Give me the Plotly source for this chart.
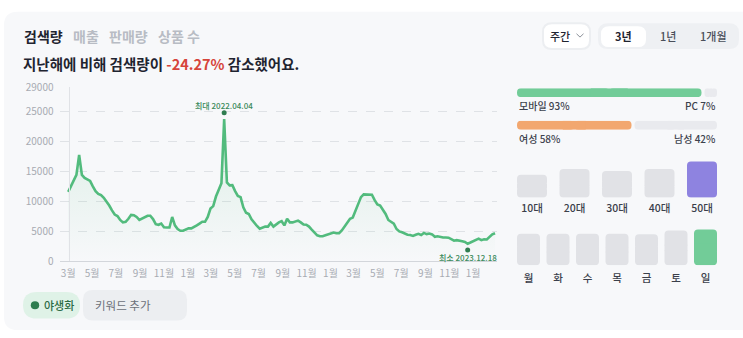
import plotly.graph_objects as go
import pandas as pd

W, H = 743, 338

# ---------------- data ----------------
search_volume = [
    11570, 12500, 13500, 14400, 17700, 14400, 13900, 13600, 13400, 12500,
    11700, 11250, 11050, 10600, 10000, 9300, 8500, 7800, 7550, 6900,
    6500, 6600, 7100, 7750, 7700, 7400, 6900, 7100, 7350, 7600,
    7600, 7050, 6200, 6100, 6300, 5700, 5650, 5650, 7400, 6000,
    5400, 5100, 5100, 5300, 5500, 5500, 5700, 6000, 6300, 6600,
    6600, 7400, 8800, 9200, 10800, 12000, 13000, 23700, 13150, 12650,
    12700, 11700, 10900, 10700, 9000, 8100, 7900, 7000, 6400, 5900,
    5450, 5650, 5800, 5800, 6400, 5800, 6200, 6500, 6700, 6000,
    7100, 6500, 6500, 6600, 6800, 6500, 6150, 6100, 5800, 5300,
    4900, 4350, 4200, 4200, 4350, 4470, 4650, 4800, 4700, 4700,
    5150, 5800, 6600, 7100, 7300, 8500, 9700, 10700, 11150, 11120,
    11100, 11100, 10200, 9500, 9300, 8600, 7900, 6900, 6600, 6300,
    5400, 5000, 4850, 4600, 4450, 4400, 4250, 4450, 4600, 4400,
    4750, 4550, 4650, 4500, 4100, 4200, 4050, 3990, 3990, 3950,
    3700, 3450, 3550, 3500, 3350, 3250, 2950, 3150, 3350, 3650,
    3800, 3550, 3700, 3650, 4100, 4500, 4700,
]
weeks = pd.date_range("2021-03-01", periods=len(search_volume), freq="7D")

x_tick_dates = ["2021-03-01", "2021-05-01", "2021-07-01", "2021-09-01", "2021-11-01",
                "2022-01-01", "2022-03-01", "2022-05-01", "2022-07-01", "2022-09-01",
                "2022-11-01", "2023-01-01", "2023-03-01", "2023-05-01", "2023-07-01",
                "2023-09-01", "2023-11-01", "2024-01-01"]
x_tick_labels = ["3월", "5월", "7월", "9월", "11월", "1월", "3월", "5월", "7월", "9월",
                 "11월", "1월", "3월", "5월", "7월", "9월", "11월", "1월"]
y_tick_vals = [0, 5000, 10000, 15000, 20000, 25000, 29000]

tabs = ["검색량", "매출", "판매량", "상품 수"]
change_pct = "-24.27%"
periods = ["3년", "1년", "1개월"]
interval = "주간"
keyword = "야생화"
add_keyword = "키워드 추가"

device_labels = ["모바일", "PC"]
device_share = [93, 7]
gender_labels = ["여성", "남성"]
gender_share = [58, 42]

age_labels = ["10대", "20대", "30대", "40대", "50대"]
age_values = [24, 30, 28, 30, 38]
day_labels = ["월", "화", "수", "목", "금", "토", "일"]
day_values = [33, 33, 33, 33, 32.5, 36.5, 37.5]

# ---------------- helpers ----------------
FONT = "Noto Sans CJK KR, Noto Sans, sans-serif"
DARK = "#1f2430"
GREEN = "#52bb7d"
CARD = "#f7f8fa"
BAR_GREY = "#e1e2e6"
TRACK = "#e9eaee"


def fx(px):
    return px / W


def fy(py):
    return 1 - py / H


def rrect(x0, y0, x1, y1, r):
    X = lambda v: f"{fx(v):.5f}"
    Y = lambda v: f"{fy(v):.5f}"
    return (f"M {X(x0 + r)} {Y(y0)} L {X(x1 - r)} {Y(y0)} Q {X(x1)} {Y(y0)} {X(x1)} {Y(y0 + r)} "
            f"L {X(x1)} {Y(y1 - r)} Q {X(x1)} {Y(y1)} {X(x1 - r)} {Y(y1)} "
            f"L {X(x0 + r)} {Y(y1)} Q {X(x0)} {Y(y1)} {X(x0)} {Y(y1 - r)} "
            f"L {X(x0)} {Y(y0 + r)} Q {X(x0)} {Y(y0)} {X(x0 + r)} {Y(y0)} Z")


fig = go.Figure()

# ---------------- main line chart ----------------
fig.add_trace(go.Scatter(
    x=weeks, y=search_volume, mode="lines",
    line=dict(color=GREEN, width=2.6),
    fill="tozeroy",
    fillgradient=dict(type="vertical",
                      colorscale=[[0, "rgba(82,187,125,0.0)"], [1, "rgba(82,187,125,0.16)"]]),
    hoverinfo="skip", showlegend=False, xaxis="x", yaxis="y",
))

imax = max(range(len(search_volume)), key=lambda i: search_volume[i])
imin = min(range(len(search_volume)), key=lambda i: search_volume[i])
unit_per_px = 29000 / (265 - 82)
fig.add_trace(go.Scatter(
    x=[weeks[imax], weeks[imin]],
    y=[search_volume[imax] + 6.5 * unit_per_px, search_volume[imin] - 6.5 * unit_per_px],
    mode="markers", marker=dict(color="#2f7d50", size=5),
    hoverinfo="skip", showlegend=False, xaxis="x", yaxis="y", cliponaxis=False,
))


# ---------------- rounded bars (rounded at both ends) ----------------
def pill_bars(axis_x, axis_y, pos, starts, lengths, colors, radius, width, horizontal):
    """Draw bars from starts to starts+lengths with both ends rounded."""
    mids = [s + l / 2 for s, l in zip(starts, lengths)]
    parts = [
        ([-l / 2 for l in lengths], mids, radius),
        ([l / 2 for l in lengths], mids, radius),
        ([l * 0.2 for l in lengths], [m - l * 0.1 for m, l in zip(mids, lengths)], 0),
    ]
    for size, base, rad in parts:
        kw = dict(base=base, width=width,
                  marker=dict(color=colors, cornerradius=rad, line=dict(width=0)),
                  hoverinfo="skip", showlegend=False, xaxis=axis_x, yaxis=axis_y)
        if horizontal:
            fig.add_trace(go.Bar(x=size, y=pos, orientation="h", **kw))
        else:
            fig.add_trace(go.Bar(x=pos, y=size, **kw))


GAP = 0.75
pill_bars("x2", "y2", [0, 0], [0, device_share[0] + GAP],
          [device_share[0] - GAP, device_share[1] - GAP], ["#72cc98", TRACK], 4, 1, True)
pill_bars("x3", "y3", [0, 0], [0, gender_share[0] + GAP],
          [gender_share[0] - GAP, gender_share[1] - GAP], ["#f2a76f", TRACK], 4, 1, True)

age_colors = [BAR_GREY] * (len(age_values) - 1) + ["#8e83e0"]
age_w = 30 / 42.5
pill_bars("x4", "y4", list(range(len(age_values))), [0] * len(age_values), age_values,
          age_colors, 4, age_w, False)

day_colors = [BAR_GREY] * (len(day_values) - 1) + ["#72cc98"]
day_w = 23 / 29.5
pill_bars("x5", "y5", list(range(len(day_values))), [0] * len(day_values), day_values,
          day_colors, 4, day_w, False)

# ---------------- layout ----------------
tick_font = dict(family=FONT, size=10, color="#a7abb2")
lab_font = dict(family=FONT, size=10.5, color="#3b404b", weight=500)
hidden = dict(visible=False, fixedrange=True)

fig.update_layout(
    width=W, height=H,
    margin=dict(l=0, r=0, t=0, b=0),
    paper_bgcolor="#ffffff", plot_bgcolor="rgba(0,0,0,0)",
    barmode="overlay",
    font=dict(family=FONT, color=DARK),
    showlegend=False,
    xaxis=dict(
        type="date", domain=[fx(60), fx(497)],
        range=["2021-02-08", "2024-03-02"],
        tickvals=x_tick_dates, ticktext=x_tick_labels,
        showgrid=False, zeroline=False,
        showline=True, linecolor="#d3d6db", linewidth=1,
        ticks="outside", ticklen=3, tickcolor="rgba(0,0,0,0)",
        tickfont=tick_font, anchor="y", fixedrange=True,
    ),
    yaxis=dict(
        domain=[fy(265), fy(82)], range=[0, 29000],
        tickvals=y_tick_vals, ticktext=[str(v) for v in y_tick_vals],
        showgrid=True, gridcolor="#dfe2e6", griddash="dash", gridwidth=1,
        zeroline=False, showline=True, linecolor="#e0e2e6", linewidth=1,
        ticks="outside", ticklen=13, tickcolor="rgba(0,0,0,0)",
        tickfont=tick_font, anchor="free", position=fx(68.5), fixedrange=True,
    ),
    xaxis2=dict(domain=[fx(517), fx(717)], range=[0, 100], anchor="y2", **hidden),
    yaxis2=dict(domain=[fy(92.5), fy(83.3)], range=[-0.5, 0.5], anchor="x2", **hidden),
    xaxis3=dict(domain=[fx(517), fx(717)], range=[0, 100], anchor="y3", **hidden),
    yaxis3=dict(domain=[fy(126.7), fy(117.3)], range=[-0.5, 0.5], anchor="x3", **hidden),
    xaxis4=dict(domain=[fx(517), fx(717)], range=[-age_w / 2, len(age_values) - 1 + age_w / 2],
                tickvals=list(range(len(age_values))), ticktext=age_labels,
                showgrid=False, zeroline=False, showline=False,
                ticks="outside", ticklen=1, tickcolor="rgba(0,0,0,0)",
                tickfont=lab_font, anchor="y4", fixedrange=True),
    yaxis4=dict(domain=[fy(198), fy(155)], range=[0, 43], anchor="x4", **hidden),
    xaxis5=dict(domain=[fx(517), fx(717)], range=[-day_w / 2, len(day_values) - 1 + day_w / 2],
                tickvals=list(range(len(day_values))), ticktext=day_labels,
                showgrid=False, zeroline=False, showline=False,
                ticks="outside", ticklen=3, tickcolor="rgba(0,0,0,0)",
                tickfont=lab_font, anchor="y5", fixedrange=True),
    yaxis5=dict(domain=[fy(269), fy(226)], range=[0, 43], anchor="x5", **hidden),
)

# ---------------- decorative shapes ----------------
P = dict(xref="paper", yref="paper")
shapes = [
    dict(type="path", path=rrect(4, 3, 770, 337, 14), fillcolor=CARD, line=dict(width=0), layer="below", **P),
    dict(type="path", path=rrect(543, 15, 590, 42, 9), fillcolor="#ffffff",
         line=dict(color="#eceef1", width=2), layer="below", **P),
    dict(type="path", path=rrect(598, 15, 739, 42, 10), fillcolor="#eef0f3", line=dict(width=0), layer="below", **P),
    dict(type="path", path=rrect(601, 18, 646, 40, 8), fillcolor="#ffffff", line=dict(width=0), layer="below", **P),
    dict(type="path", path=rrect(23, 297, 80, 325, 14), fillcolor="#dff2e7", line=dict(width=0), layer="below", **P),
    dict(type="path", path=rrect(83, 295, 187, 327, 10), fillcolor="#eceef1", line=dict(width=0), layer="below", **P),
    dict(type="path",
         path=f"M {fx(576.5)} {fy(26)} L {fx(580)} {fy(29.5)} L {fx(583.5)} {fy(26)}",
         line=dict(color="#8b9099", width=1), layer="above", **P),
    dict(type="circle", x0=fx(30.8), x1=fx(39.2), y0=fy(315.2), y1=fy(306.8),
         fillcolor="#2e7d4f", line=dict(width=0), layer="above", **P),
]
fig.update_layout(shapes=shapes)

# ---------------- annotations ----------------
ann = []


def text(s, x, y, size, color, xanchor="left", weight=400):
    ann.append(dict(text=s, x=fx(x), y=fy(y), xref="paper", yref="paper",
                    xanchor=xanchor, yanchor="middle", showarrow=False,
                    font=dict(family=FONT, size=size, color=color, weight=weight)))


tab_x = [22, 71, 107, 156]
for i, (t, x0) in enumerate(zip(tabs, tab_x)):
    text(t, x0, 28, 14, DARK if i == 0 else "#b8bcc4", weight=700 if i == 0 else 600)

text(f"지난해에 비해 {tabs[0]}이 <span style='color:#d6443a'>{change_pct}</span> 감소했어요.",
     21, 57, 14.5, DARK, weight=700)

text(interval, 560, 28, 11, DARK, xanchor="center", weight=500)
period_x = [623.5, 668, 713.5]
for i, (p, x0) in enumerate(zip(periods, period_x)):
    text(p, x0, 28.5, 11, DARK if i == 0 else "#4a4f5a", xanchor="center", weight=700 if i == 0 else 500)

text(keyword, 42, 311, 11, "#2c6b45", weight=500)
text(add_keyword, 93, 311, 11.5, "#6b7079", weight=400)

text(f"{device_labels[0]} {device_share[0]}%", 516.5, 101.5, 10, "#3d424d", weight=500)
text(f"{device_labels[1]} {device_share[1]}%", 717.5, 101.5, 10, "#3d424d", xanchor="right", weight=500)
text(f"{gender_labels[0]} {gender_share[0]}%", 516.5, 135.5, 10, "#3d424d", weight=500)
text(f"{gender_labels[1]} {gender_share[1]}%", 717.5, 135.5, 10, "#3d424d", xanchor="right", weight=500)

d_max = weeks[imax]
d_min = weeks[imin]
ann.append(dict(text=f"최대 {d_max:%Y.%m.%d}", x=d_max, y=search_volume[imax], xref="x", yref="y",
                xanchor="center", yanchor="middle", yshift=13, showarrow=False,
                font=dict(family=FONT, size=8, color="#3a8a5a", weight=500)))
ann.append(dict(text=f"최소 {d_min:%Y.%m.%d}", x=d_min, y=search_volume[imin], xref="x", yref="y",
                xanchor="center", yanchor="middle", yshift=-14, showarrow=False,
                font=dict(family=FONT, size=8, color="#3a8a5a", weight=500)))

fig.update_layout(annotations=ann)

fig.write_html("out.html", config=dict(displayModeBar=False, staticPlot=True))
